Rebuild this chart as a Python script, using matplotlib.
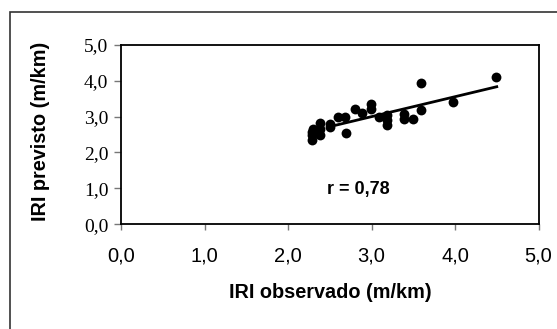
import numpy as np
import matplotlib
matplotlib.use("Agg")
import matplotlib.pyplot as plt
from matplotlib.patches import Rectangle

iri_observado = [2.29, 2.29, 2.29, 2.30, 2.38, 2.38, 2.38, 2.50, 2.50, 2.60, 2.68, 2.69,
                 2.80, 2.89, 2.99, 2.99, 3.09, 3.19, 3.19, 3.19, 3.39, 3.39, 3.50, 3.59,
                 3.59, 3.98, 4.49]
iri_previsto = [2.36, 2.48, 2.58, 2.66, 2.82, 2.66, 2.48, 2.78, 2.71, 2.98, 2.98, 2.55,
                3.21, 3.10, 3.35, 3.21, 2.98, 3.03, 2.89, 2.76, 3.08, 2.94, 2.94, 3.92,
                3.17, 3.40, 4.10]
trend_x = [2.52, 4.5]
trend_y = [2.73, 3.83]
ticks = [0.0, 1.0, 2.0, 3.0, 4.0, 5.0]
tick_labels = ["0,0", "1,0", "2,0", "3,0", "4,0", "5,0"]
r_text = "r = 0,78"

fig = plt.figure(figsize=(5.57, 3.29), dpi=100)
fig.patches.append(Rectangle((9.5 / 557, -0.1), 1.2, 0.9635 + 0.1, transform=fig.transFigure,
                             fill=False, edgecolor="#333333", linewidth=1.2))
ax = fig.add_axes([121 / 557, (329 - 224.3) / 329, (538.5 - 121) / 557, (224.3 - 44.7) / 329])

ax.scatter(iri_observado, iri_previsto, s=50, color="black", zorder=3, linewidths=0)
ax.plot(trend_x, trend_y, color="black", linewidth=2.0, zorder=2)

ax.set_xlim(0, 5)
ax.set_ylim(0, 5)
ax.set_xticks(ticks)
ax.set_xticklabels(tick_labels)
ax.set_yticks(ticks)
ax.set_yticklabels(tick_labels)
for lab in ax.get_xticklabels():
    lab.set_fontfamily(["Liberation Sans"])
    lab.set_fontsize(14.5)
for lab in ax.get_yticklabels():
    lab.set_fontfamily(["Liberation Serif"])
    lab.set_fontsize(14)
ax.tick_params(axis="x", direction="out", length=4, width=1, color="#777777", pad=12)
ax.tick_params(axis="y", direction="out", length=5, width=1, color="#777777", pad=4)
for s in ax.spines.values():
    s.set_linewidth(1.3)
    s.set_color("black")

ax.set_xlabel("IRI observado (m/km)", fontfamily="Liberation Sans", fontweight="bold",
              fontsize=14.3)
ax.set_ylabel("IRI previsto (m/km)", fontfamily="Liberation Sans", fontweight="bold",
              fontsize=14.3)
ax.xaxis.label.set_va("center")
ax.yaxis.label.set_va("center")
ax.xaxis.set_label_coords(0.502, -0.377)
ax.yaxis.set_label_coords(-0.192, 0.52)
ax.text(2.84, 0.98, r_text, fontfamily="Liberation Sans", fontweight="bold", fontsize=13,
        ha="center", va="center")

fig.savefig("out.png", dpi=100)
